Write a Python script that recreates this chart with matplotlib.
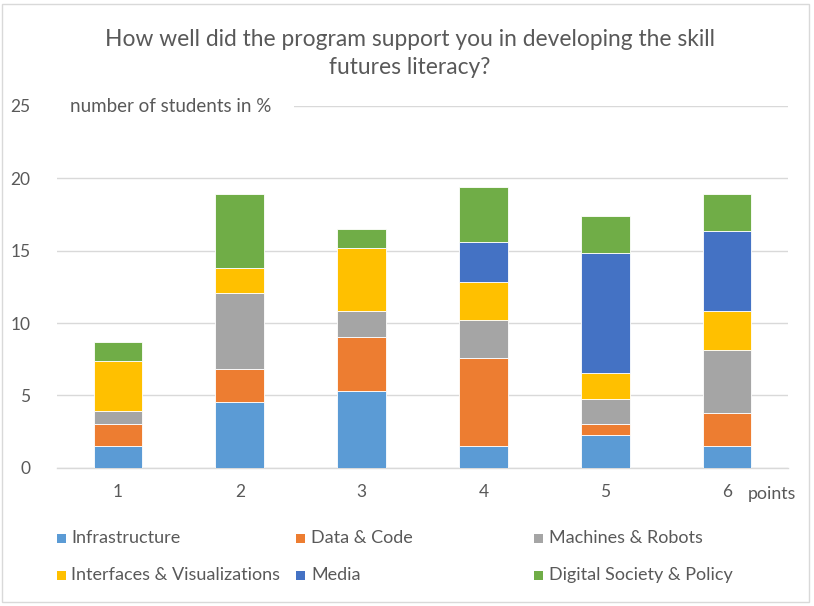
import matplotlib
matplotlib.use("Agg")
import matplotlib.pyplot as plt
import numpy as np
from matplotlib.patches import Rectangle

categories = ["1", "2", "3", "4", "5", "6"]
series_names = ["Infrastructure", "Data & Code", "Machines & Robots",
                "Interfaces & Visualizations", "Media", "Digital Society & Policy"]
infrastructure = [1.52, 4.54, 5.28, 1.52, 2.26, 1.52]
data_code = [1.50, 2.28, 3.78, 6.04, 0.76, 2.26]
machines_robots = [0.87, 5.23, 1.77, 2.62, 1.73, 4.38]
interfaces_vis = [3.51, 1.73, 4.35, 2.63, 1.77, 2.65]
media = [0.0, 0.0, 0.0, 2.79, 8.34, 5.53]
digital_society = [1.29, 5.16, 1.29, 3.82, 2.56, 2.55]
colors = ["#5B9BD5", "#ED7D31", "#A5A5A5", "#FFC000", "#4472C4", "#70AD47"]

series = [infrastructure, data_code, machines_robots, interfaces_vis, media, digital_society]

plt.rcParams['font.family'] = ['Lato', 'DejaVu Sans']
txt = "#595959"
W, H = 814, 606

fig = plt.figure(figsize=(8.14, 6.06), dpi=100)
ax = fig.add_axes([57/W, 1-467.7/H, (788-57)/W, (467.7-106)/H])

x = np.arange(len(categories))
bottom = np.zeros(len(categories))
for name, vals, c in zip(series_names, series, colors):
    v = np.array(vals)
    ax.bar(x, v, width=0.4, bottom=bottom, color=c, edgecolor="white",
           linewidth=0.6, label=name, zorder=3)
    bottom += v

ax.set_xlim(-0.5, 5.5)
ax.set_ylim(0, 25)
ax.set_yticks([0, 5, 10, 15, 20, 25])
ax.set_xticks(x)
ax.set_xticklabels(categories)
ax.yaxis.grid(True, color="#D9D9D9", linewidth=1.0, zorder=0)
ax.set_axisbelow(True)
for s in ["top", "right", "left"]:
    ax.spines[s].set_visible(False)
ax.spines["bottom"].set_color("#D9D9D9")
ax.spines["bottom"].set_linewidth(1.0)
ax.tick_params(axis="both", length=0, labelsize=12.5, labelcolor=txt)
ax.tick_params(axis="y", pad=19)
ax.tick_params(axis="x", pad=12)

# white gap in the top gridline behind the axis label
fig.add_artist(Rectangle((56/W, 1-113/H), (294-56)/W, 14/H, transform=fig.transFigure,
                         facecolor="white", edgecolor="none", zorder=2))
fig.text(70/W, 1-106/H, "number of students in %", fontsize=13.5, color=txt,
         va="center", ha="left", zorder=3)
fig.text(748/W, 1-494/H, "points", fontsize=12.8, color=txt, va="center", ha="left")

fig.text(410/W, 1-40/H, "How well did the program support you in developing the skill",
         fontsize=16.4, color=txt, ha="center", va="center")
fig.text(410/W, 1-68/H, "futures literacy?", fontsize=16.4, color=txt,
         ha="center", va="center")

# legend laid out row-wise as in the reference
col_sq = [57, 296, 534]
col_tx = [71, 311, 549]
row_y = [538, 575]
sq = 9
for i, (name, c) in enumerate(zip(series_names, colors)):
    r, col = divmod(i, 3)
    yc = row_y[r]
    fig.add_artist(Rectangle((col_sq[col]/W, 1-(yc+sq/2)/H), sq/W, sq/H,
                             transform=fig.transFigure, facecolor=c,
                             edgecolor="none", zorder=3))
    fig.text(col_tx[col]/W, 1-yc/H, name, fontsize=13, color=txt,
             va="center", ha="left")

fig.add_artist(Rectangle((2/W, 4/H), 807/W, 598/H, transform=fig.transFigure,
                         fill=False, edgecolor="#D9D9D9", linewidth=1.0))

fig.savefig("out.png", dpi=100, facecolor="white")
